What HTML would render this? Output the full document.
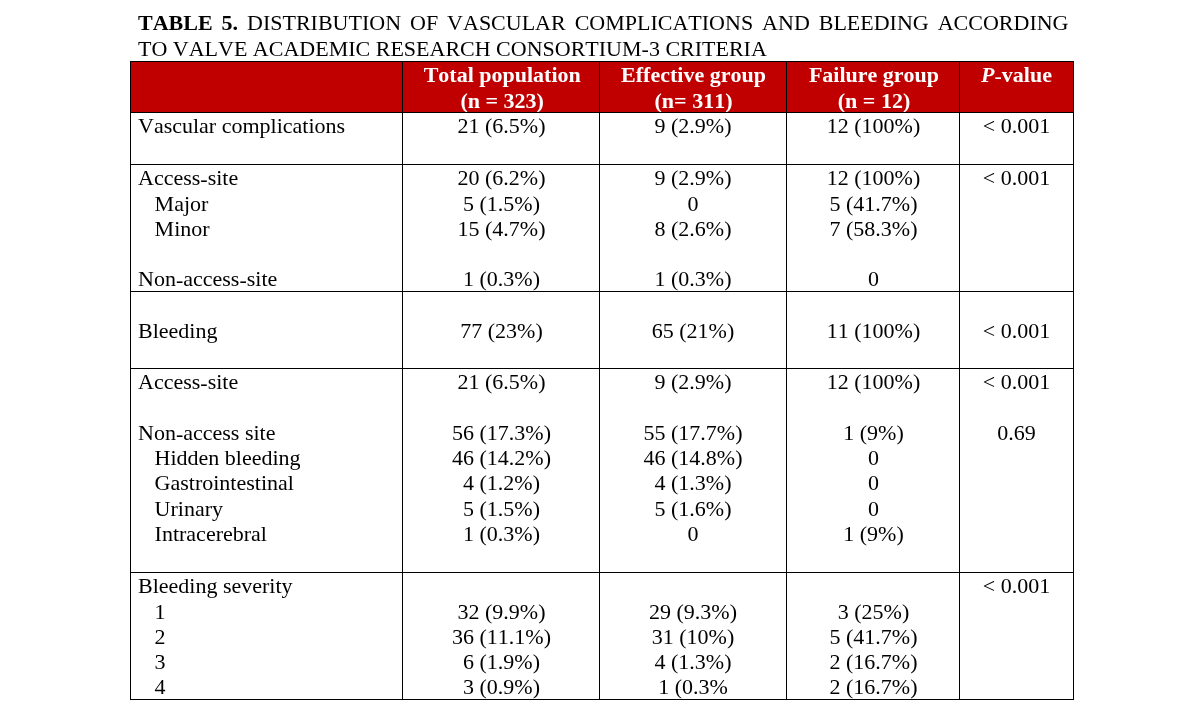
<!DOCTYPE html>
<html lang="en">
<head>
<meta charset="utf-8">
<title>Table 5</title>
<style>
html,body{margin:0;padding:0;background:#fff;}
body{width:1183px;height:726px;position:relative;overflow:hidden;
 font-family:"Liberation Serif",serif;font-kerning:none;font-size:22px;line-height:25px;color:#000;}
h1{position:absolute;left:138px;top:10px;width:930.5px;margin:0;font-size:22px;font-weight:normal;}
h1 span{display:block;height:26px;white-space:nowrap;}
h1 .j{text-align:justify;text-align-last:justify;}
table{position:absolute;left:130px;top:61px;border-collapse:separate;border-spacing:0;table-layout:fixed;
 width:944px;border-right:1px solid #000;border-bottom:1px solid #000;}
th,td{box-sizing:border-box;border-left:1px solid #000;border-top:1px solid #000;padding:0;vertical-align:top;
 text-align:center;font-weight:normal;overflow:visible;}
thead th{background:#c00000;color:#fff;font-weight:bold;height:51px;}
td:first-child,th:first-child{text-align:left;padding-left:7px;}
.l{white-space:nowrap;height:25px;}
.l.x{height:26px;}
.l.s{height:24px;overflow:hidden;}
.i{padding-left:16.6px;}
.n{font-weight:normal;}
.y{position:relative;top:1px;}
thead th:nth-child(2){padding-left:2.4px;}
tbody td:nth-child(2){padding-left:1.0px;}
thead th:nth-child(3){padding-left:1.0px;}
thead th:nth-child(4){padding-left:2.0px;}
tbody td:nth-child(4){padding-left:1.0px;}
</style>
</head>
<body>
<h1><span class="j"><b>TABLE 5.</b> DISTRIBUTION OF VASCULAR COMPLICATIONS AND BLEEDING ACCORDING</span><span>TO VALVE ACADEMIC RESEARCH CONSORTIUM-3 CRITERIA</span></h1>
<table>
<colgroup><col style="width:272px"><col style="width:197px"><col style="width:187px"><col style="width:173px"><col style="width:114px"></colgroup>
<thead>
<tr>
<th></th>
<th><div class="l x">Total population</div><div class="l s">(n = 323)</div></th>
<th><div class="l x">Effective group</div><div class="l s">(n= 311)</div></th>
<th><div class="l x">Failure group</div><div class="l s">(n = 12)</div></th>
<th><div class="l x"><i>P</i><span class="n y">-</span>value</div></th>
</tr>
</thead>
<tbody>
<tr style="height:52px">
<td><div class="l">Vascular complications</div></td>
<td><div class="l">21 (6.5%)</div></td>
<td><div class="l">9 (2.9%)</div></td>
<td><div class="l">12 (100%)</div></td>
<td><div class="l">&lt; 0.001</div></td>
</tr>
<tr style="height:127px">
<td><div class="l x">Access<span class="y">-</span>site</div><div class="l i">Major</div><div class="l i">Minor</div><div class="l"></div><div class="l">Non<span class="y">-</span>access<span class="y">-</span>site</div></td>
<td><div class="l x">20 (6.2%)</div><div class="l">5 (1.5%)</div><div class="l">15 (4.7%)</div><div class="l"></div><div class="l">1 (0.3%)</div></td>
<td><div class="l x">9 (2.9%)</div><div class="l">0</div><div class="l">8 (2.6%)</div><div class="l"></div><div class="l">1 (0.3%)</div></td>
<td><div class="l x">12 (100%)</div><div class="l">5 (41.7%)</div><div class="l">7 (58.3%)</div><div class="l"></div><div class="l">0</div></td>
<td><div class="l x">&lt; 0.001</div></td>
</tr>
<tr style="height:77px">
<td><div class="l x"></div><div class="l">Bleeding</div></td>
<td><div class="l x"></div><div class="l">77 (23%)</div></td>
<td><div class="l x"></div><div class="l">65 (21%)</div></td>
<td><div class="l x"></div><div class="l">11 (100%)</div></td>
<td><div class="l x"></div><div class="l">&lt; 0.001</div></td>
</tr>
<tr style="height:204px">
<td><div class="l x">Access<span class="y">-</span>site</div><div class="l"></div><div class="l">Non<span class="y">-</span>access site</div><div class="l i">Hidden bleeding</div><div class="l x i">Gastrointestinal</div><div class="l i">Urinary</div><div class="l i">Intracerebral</div></td>
<td><div class="l x">21 (6.5%)</div><div class="l"></div><div class="l">56 (17.3%)</div><div class="l">46 (14.2%)</div><div class="l x">4 (1.2%)</div><div class="l">5 (1.5%)</div><div class="l">1 (0.3%)</div></td>
<td><div class="l x">9 (2.9%)</div><div class="l"></div><div class="l">55 (17.7%)</div><div class="l">46 (14.8%)</div><div class="l x">4 (1.3%)</div><div class="l">5 (1.6%)</div><div class="l">0</div></td>
<td><div class="l x">12 (100%)</div><div class="l"></div><div class="l">1 (9%)</div><div class="l">0</div><div class="l x">0</div><div class="l">0</div><div class="l">1 (9%)</div></td>
<td><div class="l x">&lt; 0.001</div><div class="l"></div><div class="l">0.69</div></td>
</tr>
<tr style="height:127px">
<td><div class="l x">Bleeding severity</div><div class="l i">1</div><div class="l i">2</div><div class="l i">3</div><div class="l i">4</div></td>
<td><div class="l x"></div><div class="l">32 (9.9%)</div><div class="l">36 (11.1%)</div><div class="l">6 (1.9%)</div><div class="l">3 (0.9%)</div></td>
<td><div class="l x"></div><div class="l">29 (9.3%)</div><div class="l">31 (10%)</div><div class="l">4 (1.3%)</div><div class="l">1 (0.3%</div></td>
<td><div class="l x"></div><div class="l">3 (25%)</div><div class="l">5 (41.7%)</div><div class="l">2 (16.7%)</div><div class="l">2 (16.7%)</div></td>
<td><div class="l x">&lt; 0.001</div></td>
</tr>
</tbody>
</table>
</body>
</html>
